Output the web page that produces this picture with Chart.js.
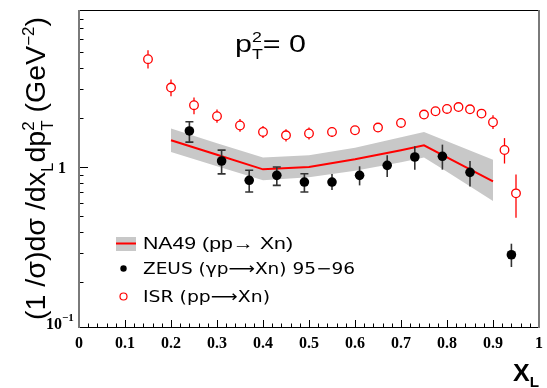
<!DOCTYPE html>
<html>
<head>
<meta charset="utf-8">
<script src="https://cdn.jsdelivr.net/npm/chart.js@4.4.0/dist/chart.umd.min.js"></script>
<style>
  html, body { margin: 0; padding: 0; background: #fff; }
  #wrap { width: 547px; height: 388px; position: relative; }
</style>
</head>
<body>
<div id="wrap"><canvas id="xsChart"></canvas></div>
<script>
// axis ranges
const yMin = 0.106, yMax = 9.05;
const xTicks = [0, 0.1, 0.2, 0.3, 0.4, 0.5, 0.6, 0.7, 0.8, 0.9, 1];
const xTickLabels = ['0', '0.1', '0.2', '0.3', '0.4', '0.5', '0.6', '0.7', '0.8', '0.9', '1'];

// NA49 (pp -> Xn): central curve and band
const na49X    = [0.2, 0.3, 0.4, 0.5, 0.6, 0.7, 0.75, 0.8, 0.9];
const na49Y    = [1.455, 1.187, 0.968, 1.00, 1.114, 1.264, 1.356, 1.146, 0.818];
const na49High = [1.714, 1.394, 1.141, 1.178, 1.309, 1.517, 1.635, 1.434, 1.109];
const na49Low  = [1.234, 1.010, 0.830, 0.865, 0.948, 1.068, 1.141, 0.935, 0.620];

// ZEUS (gamma p -> Xn) 95-96
const zeusX     = [0.24, 0.31, 0.37, 0.43, 0.49, 0.55, 0.61, 0.67, 0.73, 0.79, 0.85, 0.94];
const zeusY     = [1.658, 1.088, 0.830, 0.890, 0.810, 0.810, 0.890, 1.024, 1.151, 1.162, 0.928, 0.292];
const zeusErrUp = [0.23, 0.18, 0.125, 0.11, 0.10, 0.096, 0.12, 0.155, 0.186, 0.207, 0.16, 0.049];
const zeusErrDn = [0.24, 0.18, 0.125, 0.117, 0.106, 0.086, 0.117, 0.155, 0.188, 0.198, 0.166, 0.046];
const zeusCapped = 5; // first points are drawn with end caps

// ISR (pp -> Xn)
const isrX     = [0.15, 0.20, 0.25, 0.30, 0.35, 0.40, 0.45, 0.50, 0.55, 0.60, 0.65, 0.70,
                  0.75, 0.775, 0.80, 0.825, 0.85, 0.875, 0.90, 0.925, 0.95];
const isrY     = [4.54, 3.05, 2.38, 2.04, 1.79, 1.635, 1.56, 1.60, 1.635, 1.675, 1.74, 1.855,
                  2.087, 2.186, 2.258, 2.32, 2.248, 2.116, 1.874, 1.27, 0.691];
const isrErrUp = [0.61, 0.36, 0.27, 0.20, 0.17, 0.14, 0.14, 0.14, 0.12, 0.10, 0.10, 0.11,
                  0.12, 0.13, 0.13, 0.13, 0.13, 0.12, 0.19, 0.23, 0.21];
const isrErrDn = [0.55, 0.35, 0.28, 0.18, 0.15, 0.13, 0.13, 0.13, 0.11, 0.09, 0.10, 0.10,
                  0.11, 0.12, 0.12, 0.13, 0.12, 0.12, 0.17, 0.22, 0.20];

const RED = '#ff0000';
const SANS = '"Liberation Sans", Arial, sans-serif';
const DEJA = '"DejaVu Sans", sans-serif';
const SERIF = '"Liberation Serif", "Times New Roman", serif';

function pts(xs, ys) {
    return xs.map((x, i) => ({ x: x, y: ys[i] }));
}

// draw a run of text pieces with sub/superscripts, squeezed to a given width
function drawRich(ctx, parts, x, y, size, family, weight, targetWidth) {
    const fontFor = p => `${weight || 'normal'} ${(p.sub || p.sup) ? Math.round(size * 0.6) : size}px ${family}`;
    let natural = 0, stackW = 0;
    parts.forEach(p => {
        ctx.font = fontFor(p);
        const w = ctx.measureText(p.t).width;
        if (p.stack) { stackW = w; } else { natural += Math.max(w, stackW); stackW = 0; }
    });
    const k = targetWidth ? targetWidth / natural : 1;
    ctx.save();
    ctx.translate(x, y);
    ctx.scale(k, 1);
    let cx = 0;
    stackW = 0;
    parts.forEach(p => {
        ctx.font = fontFor(p);
        const dy = p.sub ? size * 0.28 : p.sup ? -size * 0.42 : 0;
        ctx.fillText(p.t, cx, dy);
        const w = ctx.measureText(p.t).width;
        if (p.stack) { stackW = w; } else { cx += Math.max(w, stackW); stackW = 0; }
    });
    ctx.restore();
}

function drawErrorBars(chart) {
    const ctx = chart.ctx;
    const xs = chart.scales.x, ys = chart.scales.y;
    ctx.save();
    // ZEUS
    ctx.strokeStyle = '#333';
    ctx.lineWidth = 1.6;
    zeusX.forEach((x, i) => {
        const px = xs.getPixelForValue(x);
        const top = ys.getPixelForValue(zeusY[i] + zeusErrUp[i]);
        const bot = ys.getPixelForValue(zeusY[i] - zeusErrDn[i]);
        ctx.beginPath();
        ctx.moveTo(px, top); ctx.lineTo(px, bot);
        if (i < zeusCapped) {
            ctx.moveTo(px - 4, top); ctx.lineTo(px + 4, top);
            ctx.moveTo(px - 4, bot); ctx.lineTo(px + 4, bot);
        }
        ctx.stroke();
    });
    // ISR
    ctx.strokeStyle = RED;
    ctx.lineWidth = 1.3;
    isrX.forEach((x, i) => {
        const px = xs.getPixelForValue(x);
        ctx.beginPath();
        ctx.moveTo(px, ys.getPixelForValue(isrY[i] + isrErrUp[i]));
        ctx.lineTo(px, ys.getPixelForValue(isrY[i] - isrErrDn[i]));
        ctx.stroke();
    });
    ctx.restore();
}

function drawFrame(chart) {
    const ctx = chart.ctx;
    const a = chart.chartArea;
    const xs = chart.scales.x, ys = chart.scales.y;
    ctx.save();
    // ticks on the x axis
    ctx.strokeStyle = '#000';
    ctx.lineWidth = 1;
    ctx.beginPath();
    for (let i = 0; i <= 50; i++) {
        const px = Math.round(xs.getPixelForValue(i / 50)) + 0.5;
        const len = (i % 5 === 0) ? 7 : 3.5;
        ctx.moveTo(px, a.bottom); ctx.lineTo(px, a.bottom - len);
    }
    // ticks on the y axis
    [0.1, 1].forEach(dec => {
        for (let m = 1; m <= 9; m++) {
            const v = dec * m;
            if (v < yMin || v > yMax) continue;
            const py = Math.round(ys.getPixelForValue(v)) + 0.5;
            const len = (m === 1) ? 9 : 4.5;
            ctx.moveTo(a.left, py); ctx.lineTo(a.left + len, py);
        }
    });
    ctx.stroke();
    // frame
    ctx.beginPath();
    ctx.moveTo(a.left, a.top + 0.5); ctx.lineTo(a.right, a.top + 0.5);
    ctx.moveTo(a.left, a.bottom + 0.5); ctx.lineTo(a.right, a.bottom + 0.5);
    ctx.stroke();
    ctx.strokeStyle = '#7a7a7a';
    ctx.lineWidth = 2;
    ctx.beginPath();
    ctx.moveTo(a.left, a.top); ctx.lineTo(a.left, a.bottom + 1);
    ctx.moveTo(a.right, a.top); ctx.lineTo(a.right, a.bottom + 1);
    ctx.stroke();

    // tick labels
    ctx.fillStyle = '#000';
    ctx.font = `bold 16px ${SERIF}`;
    ctx.textAlign = 'center';
    ctx.textBaseline = 'alphabetic';
    xTicks.forEach((t, i) => {
        ctx.fillText(xTickLabels[i], xs.getPixelForValue(t), a.bottom + 21);
    });
    ctx.textAlign = 'right';
    ctx.fillText('1', a.left - 13, ys.getPixelForValue(1) + 6);
    ctx.fillText('10', a.left - 17, a.bottom + 2);
    ctx.textAlign = 'left';
    ctx.font = `bold 11px ${SERIF}`;
    ctx.fillText('\u22121', a.left - 17, a.bottom - 6);
    ctx.restore();
}

function drawTexts(chart) {
    const ctx = chart.ctx;
    ctx.save();
    ctx.fillStyle = '#000';
    ctx.textBaseline = 'alphabetic';
    ctx.textAlign = 'left';

    // y axis title
    ctx.save();
    ctx.translate(45, 320);
    ctx.rotate(-Math.PI / 2);
    drawRich(ctx, [
        { t: '(1 /\u03c3)d\u03c3 /dx' }, { t: 'L', sub: true }, { t: 'dp' },
        { t: 'T', sub: true, stack: true }, { t: '2', sup: true },
        { t: ' (GeV' }, { t: '\u22122', sup: true }, { t: ')' }
    ], 0, 0, 27, SANS, 'normal', 303);
    ctx.restore();

    // x axis title
    drawRich(ctx, [{ t: 'X' }, { t: 'L', sub: true }], 513, 381, 23, SANS, 'bold', 26);

    // pT^2 = 0
    drawRich(ctx, [{ t: 'p' }, { t: 'T', sub: true, stack: true }, { t: '2', sup: true },
                   { t: '= 0' }], 235, 52, 24, SANS, 'normal', 71);

    // legend
    ctx.fillStyle = '#c8c8c8';
    ctx.fillRect(116, 237, 20, 14);
    ctx.strokeStyle = RED;
    ctx.lineWidth = 2;
    ctx.beginPath();
    ctx.moveTo(116, 243.5); ctx.lineTo(136, 243.5);
    ctx.stroke();
    ctx.fillStyle = '#000';
    drawRich(ctx, [{ t: 'NA49 (pp\u2192 Xn)' }], 143, 249, 17, SANS, 'normal', 150);

    ctx.beginPath();
    ctx.arc(123.5, 268.5, 3.2, 0, Math.PI * 2);
    ctx.fill();
    drawRich(ctx, [{ t: 'ZEUS (\u03b3p\u27f6Xn) 95\u221296' }], 143, 274, 16, DEJA, 'normal', 212);

    ctx.strokeStyle = RED;
    ctx.lineWidth = 1.2;
    ctx.beginPath();
    ctx.arc(123.5, 296.5, 3.5, 0, Math.PI * 2);
    ctx.stroke();
    drawRich(ctx, [{ t: 'ISR (pp\u27f6Xn)' }], 143, 302, 16, DEJA, 'normal', 127);
    ctx.restore();
}

const rootStyle = {
    id: 'rootStyle',
    afterDatasetDraw(chart, args) {
        if (args.index === 2) drawErrorBars(chart);
    },
    afterDraw(chart) {
        drawFrame(chart);
        drawTexts(chart);
    }
};

new Chart(document.getElementById('xsChart'), {
    type: 'scatter',
    data: {
        datasets: [
            {
                label: 'NA49 band low',
                data: pts(na49X, na49Low),
                showLine: true,
                borderWidth: 0,
                borderColor: 'rgba(0,0,0,0)',
                pointRadius: 0,
                fill: false,
                order: 4
            },
            {
                label: 'NA49 band high',
                data: pts(na49X, na49High),
                showLine: true,
                borderWidth: 0,
                borderColor: 'rgba(0,0,0,0)',
                backgroundColor: '#c8c8c8',
                pointRadius: 0,
                fill: '-1',
                order: 3
            },
            {
                label: 'NA49 (pp\u2192Xn)',
                data: pts(na49X, na49Y),
                showLine: true,
                borderColor: RED,
                borderWidth: 2,
                pointRadius: 0,
                fill: false,
                order: 2
            },
            {
                label: 'ZEUS (\u03b3p\u2192Xn) 95-96',
                data: pts(zeusX, zeusY),
                backgroundColor: '#000',
                borderColor: '#000',
                pointRadius: 4.8,
                borderWidth: 0,
                order: 1
            },
            {
                label: 'ISR (pp\u2192Xn)',
                data: pts(isrX, isrY),
                backgroundColor: '#fff',
                borderColor: RED,
                borderWidth: 1.3,
                pointRadius: 4.3,
                order: 0
            }
        ]
    },
    options: {
        responsive: true,
        maintainAspectRatio: false,
        animation: false,
        layout: { padding: { left: 79, right: 8, top: 10, bottom: 61 } },
        plugins: { legend: { display: false }, tooltip: { enabled: false } },
        scales: {
            x: { type: 'linear', min: 0, max: 1, display: false },
            y: { type: 'logarithmic', min: yMin, max: yMax, display: false }
        }
    },
    plugins: [rootStyle]
});
</script>
</body>
</html>
